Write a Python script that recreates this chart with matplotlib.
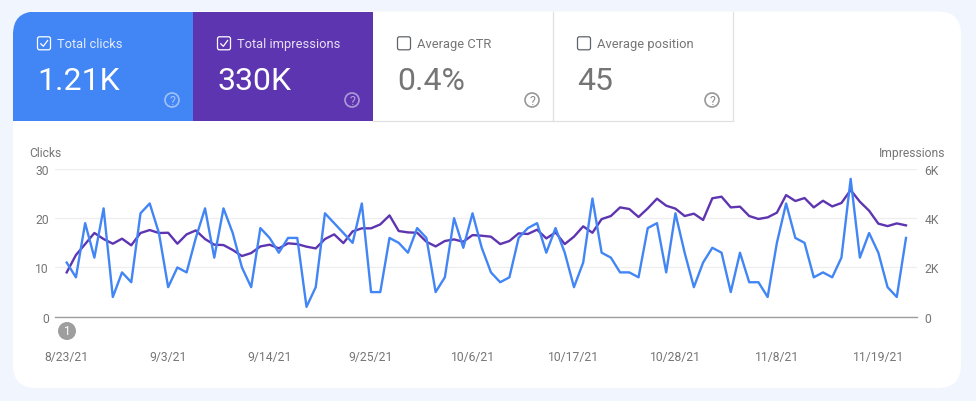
import matplotlib
matplotlib.use('Agg')
import matplotlib.pyplot as plt
from matplotlib.patches import FancyBboxPatch, Rectangle, Circle

plt.rcParams['font.family'] = ['Roboto', 'DejaVu Sans']

# daily values
clicks = [11, 8, 19, 12, 22, 4, 9, 7, 21, 23, 17, 6, 10, 9, 16, 22, 12, 22, 17, 10, 6, 18, 16, 13, 16, 16, 2, 6,
          21, 19, 17, 15, 23, 5, 5, 16, 15, 13, 18, 16, 5, 8, 20, 14, 21, 14, 9, 7, 8, 16, 18, 19, 13, 18, 13, 6,
          11, 24, 13, 12, 9, 9, 8, 18, 19, 9, 21, 13, 6, 11, 14, 13, 5, 13, 7, 7, 4, 15, 23, 16, 15, 8, 9, 8, 12,
          28, 12, 17, 13, 6, 4, 16]
impressions = [1800, 2505, 2950, 3400, 3155, 2965, 3170, 2900, 3400, 3520, 3400, 3410, 2965, 3345, 3505, 3155,
               2925, 2910, 2710, 2465, 2585, 2855, 2925, 2775, 2980, 2950, 2845, 2775, 3155, 3345, 2990, 3465,
               3590, 3590, 3750, 4115, 3480, 3425, 3410, 3045, 2855, 3075, 3140, 3045, 3315, 3290, 3250, 2950,
               3075, 3385, 3360, 3535, 3180, 3425, 2950, 3250, 3670, 3410, 3965, 4090, 4440, 4375, 4050, 4400,
               4795, 4510, 4390, 4090, 4185, 3930, 4810, 4875, 4440, 4470, 4090, 3970, 4035, 4225, 4940, 4700,
               4820, 4440, 4710, 4480, 4620, 5145, 4670, 4305, 3780, 3680, 3790, 3710]
date_ticks = [0, 11, 22, 33, 44, 55, 66, 77, 88]
date_labels = ['8/23/21', '9/3/21', '9/14/21', '9/25/21', '10/6/21', '10/17/21', '10/28/21', '11/8/21', '11/19/21']
click_ticks = [0, 10, 20, 30]
click_labels = ['0', '10', '20', '30']
imp_ticks = [0, 2000, 4000, 6000]
imp_labels = ['0', '2K', '4K', '6K']
card_titles = ['Total clicks', 'Total impressions', 'Average CTR', 'Average position']
card_values = ['1.21K', '330K', '0.4%', '45']

W, H = 976, 402
BLUE = '#4285f4'
PURPLE = '#5e35b1'
GRAY = '#757575'

fig = plt.figure(figsize=(W / 100, H / 100), dpi=100, facecolor='#f1f5fe')

# overlay in pixel coords for the cards
bg = fig.add_axes([0, 0, 1, 1], zorder=0)
bg.set_xlim(0, W)
bg.set_ylim(H, 0)
bg.axis('off')

panel = FancyBboxPatch((13, 12.5), 948, 376.5, boxstyle='round,pad=0,rounding_size=23', fc='white', ec='none')
bg.add_patch(panel)

# colored cards get clipped by the rounded panel
for i, color in enumerate([BLUE, PURPLE]):
    r = Rectangle((13 + 180 * i, 12.5), 180, 109.5, fc=color, ec='none')
    bg.add_patch(r)
    r.set_clip_path(panel)

# borders of the two white cards
bg.plot([373, 732.6, 732.6], [122, 122, 12.5], color='#e0e0e0', lw=0.9)
bg.plot([552.8, 552.8], [12.5, 122], color='#e0e0e0', lw=0.9)

for i in range(4):
    x0 = 13 + 180 * i
    on = i < 2
    fg = 'white' if on else GRAY
    bg.add_patch(FancyBboxPatch((x0 + 24.5, 37.8), 13, 13, boxstyle='round,pad=0,rounding_size=2',
                                fc='none', ec='white' if on else '#5f6368', lw=0.9))
    if on:
        bg.plot([x0 + 27.8, x0 + 30.3, x0 + 34.6], [44.8, 47.3, 41.5], color='white', lw=0.9)
    bg.text(x0 + 44, 44.7, card_titles[i], color=fg, alpha=0.85 if on else 1, fontsize=9.3, ha='left', va='center')
    bg.text(x0 + 24.5, 81.5, card_values[i], color=fg, fontsize=23, ha='left', va='center')
    bg.add_patch(Circle((x0 + 159, 101), 7, fc='none', ec='white' if on else GRAY, lw=1.2, alpha=0.5 if on else 0.75))
    bg.text(x0 + 159, 101.3, '?', color=fg, alpha=0.55 if on else 0.85, fontsize=9, ha='center', va='center')

# chart
left, right, top, bottom = 55, 917.3, 170, 317.7
ax = fig.add_axes([left / W, 1 - bottom / H, (right - left) / W, (bottom - top) / H], zorder=1)
ax.patch.set_alpha(0)
step = (906 - 66.7) / 91
ax.set_xlim(-(66.7 - left) / step, 91 + (right - 906) / step)
ax.set_ylim(0, 30)
ax.set_xticks(date_ticks, date_labels)
ax.set_yticks(click_ticks, click_labels)
ax.tick_params(axis='both', length=0, labelsize=8.7, labelcolor=GRAY)
ax.tick_params(axis='x', pad=24)
ax.tick_params(axis='y', pad=4.5)
ax.grid(axis='y', color='#eeeeee', lw=0.9)
ax.set_axisbelow(True)
for s in ax.spines.values():
    s.set_visible(False)
ax.axhline(0, color='#9e9e9e', lw=1.0, clip_on=False)

ax2 = ax.twinx()
ax2.patch.set_alpha(0)
ax2.set_ylim(0, 6000)
ax2.set_yticks(imp_ticks, imp_labels)
ax2.tick_params(axis='y', length=0, labelsize=8.7, labelcolor=GRAY, pad=5)
for s in ax2.spines.values():
    s.set_visible(False)

days = list(range(len(clicks)))
ax2.plot(days, impressions, color=PURPLE, lw=1.7, zorder=2, solid_joinstyle='round')
ax2.plot(days, [c * 200 for c in clicks], color=BLUE, lw=1.7, zorder=3, solid_joinstyle='round')

# axis titles and the annotation badge
top_layer = fig.add_axes([0, 0, 1, 1], zorder=2)
top_layer.set_xlim(0, W)
top_layer.set_ylim(H, 0)
top_layer.axis('off')
top_layer.text(29, 154, 'Clicks', color=GRAY, fontsize=8.7, ha='left', va='center')
top_layer.text(945.5, 154, 'Impressions', color=GRAY, fontsize=8.7, ha='right', va='center')
top_layer.add_patch(Circle((67, 332), 9, fc='#9e9e9e', ec='none'))
top_layer.text(67, 331.5, '1', color='white', fontsize=8.5, ha='center', va='center')

fig.savefig('out.png', dpi=100, facecolor=fig.get_facecolor())
